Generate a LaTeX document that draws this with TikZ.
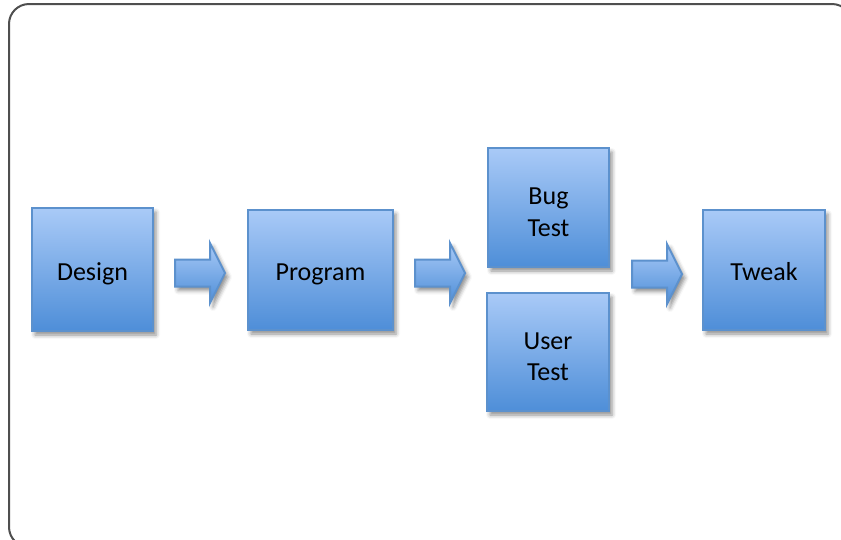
\documentclass[tikz,border=0pt]{standalone}
\usepackage{fontspec}
\setmainfont{Carlito}
\usetikzlibrary{shadows.blur}

\definecolor{boxtop}{HTML}{A9CAF7}
\definecolor{boxbot}{HTML}{4E8ED8}
\definecolor{boxline}{HTML}{5C91CD}
\definecolor{framegray}{HTML}{4F4F4F}

\tikzset{
  stage/.style={
    rectangle, draw=boxline, line width=2.5pt,
    top color=boxtop, bottom color=boxbot,
    blur shadow={shadow xshift=3pt, shadow yshift=-4pt,
                 shadow blur radius=4pt, shadow opacity=45},
    inner sep=0pt
  },
  stagelabel/.style={
    yshift=-4.5pt, inner sep=0pt, align=center,
    font=\fontsize{26}{31.5}\selectfont
  },
  flowarrow/.style={
    draw=boxline, line width=2pt, line join=miter,
    top color=boxtop, bottom color=boxbot,
    blur shadow={shadow xshift=3pt, shadow yshift=-4pt,
                 shadow blur radius=4pt, shadow opacity=45}
  },
  blockarrow/.pic={
    \path[flowarrow] (0,-13.5) -- (35,-13.5) -- (35,-30) -- (50,0)
      -- (35,30) -- (35,13.5) -- (0,13.5) -- cycle;
  },
  outerframe/.style={draw=framegray, line width=2pt, rounded corners=20pt}
}

\begin{document}
\begin{tikzpicture}[x=1pt, y=-1pt]
  \useasboundingbox (0,0) rectangle (841,539);

  % surrounding rounded frame
  \draw[outerframe] (9,4) rectangle (852,547);

  % process stages
  \node[stage, minimum width=121pt, minimum height=123pt,
        label={[stagelabel]center:Design}] (design) at (92.5,269.5) {};
  \node[stage, minimum width=145pt, minimum height=120pt,
        label={[stagelabel]center:Program}] (program) at (320.5,270) {};
  \node[stage, minimum width=121pt, minimum height=119pt,
        label={[stagelabel]center:{Bug\\Test}}] (bugtest) at (548.5,207.5) {};
  \node[stage, minimum width=122pt, minimum height=118pt,
        label={[stagelabel]center:{User\\Test}}] (usertest) at (548,352) {};
  \node[stage, minimum width=122pt, minimum height=120pt,
        label={[stagelabel, yshift=2.5pt]center:Tweak}] (tweak) at (764,270) {};

  % block arrows between the stages
  \pic at (175,273) {blockarrow};
  \pic at (415,273) {blockarrow};
  \pic at (632,274) {blockarrow};
\end{tikzpicture}
\end{document}
